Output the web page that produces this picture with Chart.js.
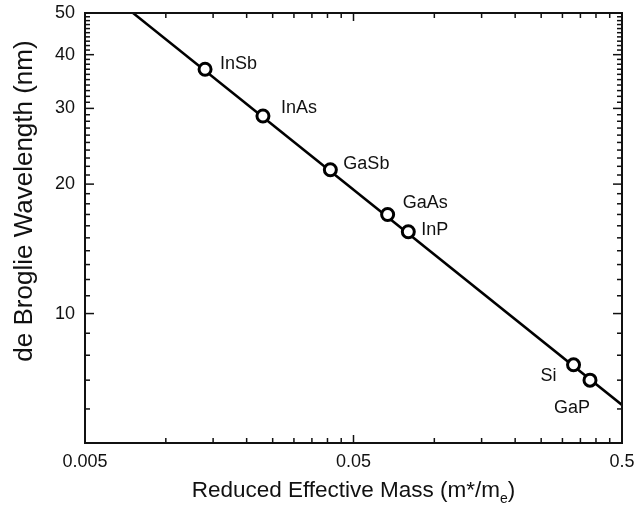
<!DOCTYPE html>
<html>
<head>
<meta charset="utf-8">
<script src="https://cdn.jsdelivr.net/npm/chart.js@4.4.1/dist/chart.umd.min.js"></script>
<style>
  html, body { margin: 0; padding: 0; background: #fff; }
  #wrap { width: 634px; height: 516px; }
</style>
</head>
<body>
<div id="wrap"><canvas id="c" width="634" height="516"></canvas></div>
<script>
// Semiconductor materials and their reduced effective mass vs. de Broglie wavelength
const materials   = ['InSb', 'InAs', 'GaSb', 'GaAs', 'InP', 'Si', 'GaP'];
const reducedMass = [0.014, 0.023, 0.041, 0.067, 0.080, 0.33, 0.38];
const wavelength  = [37.0, 28.8, 21.6, 17.0, 15.5, 7.6, 7.0];

// Reference line (lambda ~ m^-1/2), end points
const lineMass       = [0.00755, 0.5];
const lineWavelength = [50, 6.13];

// Labelled ticks
const xTickValues = [0.005, 0.05, 0.5];
const xTickLabels = ['0.005', '0.05', '0.5'];
const yTickValues = [10, 20, 30, 40, 50];
const yTickLabels = ['10', '20', '30', '40', '50'];

// Unlabelled minor ticks
const xMinorTicks = [];
[0.005, 0.05].forEach(base => { for (let n = 2; n <= 9; n++) xMinorTicks.push(base * n); });
const yMinorTicks = [];
for (let v = 6; v < 50; v++) if (v % 10 !== 0) yMinorTicks.push(v);

// Label placement next to each marker (px, relative to marker centre)
const labelOffsets = [
  { dx: 15, dy: -5,  align: 'left' },
  { dx: 18, dy: -8,  align: 'left' },
  { dx: 13, dy: -6,  align: 'left' },
  { dx: 15, dy: -11, align: 'left' },
  { dx: 13, dy: -2,  align: 'left' },
  { dx: -17, dy: 11, align: 'right' },
  { dx: -18, dy: 28, align: 'center' }
];

const FONT = "'Liberation Sans', Arial, sans-serif";
const INK = '#111';

const frameAndTicks = {
  id: 'frameAndTicks',
  afterDraw(chart) {
    const { ctx, chartArea: a, scales: { x, y } } = chart;
    ctx.save();
    ctx.strokeStyle = INK;
    ctx.lineWidth = 1.5;
    const seg = (x1, y1, x2, y2) => { ctx.beginPath(); ctx.moveTo(x1, y1); ctx.lineTo(x2, y2); ctx.stroke(); };
    const xt = (v, len) => { const p = x.getPixelForValue(v); seg(p, a.bottom, p, a.bottom - len); seg(p, a.top, p, a.top + len); };
    const yt = (v, len) => { const p = y.getPixelForValue(v); seg(a.left, p, a.left + len, p); seg(a.right, p, a.right - len, p); };
    xTickValues.forEach(v => xt(v, 8));
    xMinorTicks.forEach(v => xt(v, 5));
    yTickValues.forEach(v => yt(v, 9));
    yMinorTicks.forEach(v => yt(v, 5));
    ctx.lineWidth = 2;
    ctx.strokeRect(a.left, a.top, a.right - a.left, a.bottom - a.top);

    // axis titles
    ctx.fillStyle = INK;
    ctx.textBaseline = 'middle';
    // x title with subscript
    const main = 'Reduced Effective Mass (m*/m';
    ctx.font = `22.5px ${FONT}`;
    const wMain = ctx.measureText(main).width;
    ctx.font = `14px ${FONT}`;
    const wSub = ctx.measureText('e').width;
    ctx.font = `22.5px ${FONT}`;
    const wEnd = ctx.measureText(')').width;
    const total = wMain + wSub + wEnd;
    const tx = (a.left + a.right) / 2 - total / 2;
    const ty = 491;
    ctx.textAlign = 'left';
    ctx.fillText(main, tx, ty);
    ctx.font = `14px ${FONT}`;
    ctx.fillText('e', tx + wMain, ty + 8);
    ctx.font = `22.5px ${FONT}`;
    ctx.fillText(')', tx + wMain + wSub, ty);

    // y title
    ctx.save();
    ctx.translate(25, 201);
    ctx.rotate(-Math.PI / 2);
    ctx.textAlign = 'center';
    ctx.font = `26px ${FONT}`;
    ctx.fillText('de Broglie Wavelength (nm)', 0, 0);
    ctx.restore();
    ctx.restore();
  }
};

const pointLabels = {
  id: 'pointLabels',
  afterDatasetsDraw(chart) {
    const { ctx } = chart;
    const meta = chart.getDatasetMeta(0);
    ctx.save();
    ctx.fillStyle = INK;
    ctx.font = `18px ${FONT}`;
    ctx.textBaseline = 'middle';
    meta.data.forEach((pt, i) => {
      const o = labelOffsets[i];
      ctx.textAlign = o.align;
      ctx.fillText(materials[i], pt.x + o.dx, pt.y + o.dy);
    });
    ctx.restore();
  }
};

new Chart(document.getElementById('c'), {
  type: 'scatter',
  data: {
    datasets: [
      {
        label: 'Materials',
        data: reducedMass.map((m, i) => ({ x: m, y: wavelength[i] })),
        pointRadius: 6,
        pointHoverRadius: 6,
        pointBorderWidth: 3,
        pointBackgroundColor: '#fff',
        pointBorderColor: '#000',
        showLine: false,
        order: 0
      },
      {
        label: 'Fit',
        data: lineMass.map((m, i) => ({ x: m, y: lineWavelength[i] })),
        showLine: true,
        borderColor: '#000',
        borderWidth: 2.5,
        pointRadius: 0,
        pointHoverRadius: 0,
        order: 1
      }
    ]
  },
  options: {
    responsive: false,
    animation: false,
    events: [],
    layout: { padding: { top: 13, right: 12, left: 0, bottom: 0 } },
    plugins: { legend: { display: false }, tooltip: { enabled: false } },
    scales: {
      x: {
        type: 'logarithmic',
        min: 0.005,
        max: 0.5,
        grid: { display: false },
        border: { display: false },
        afterBuildTicks: s => { s.ticks = xTickValues.map(v => ({ value: v })); },
        afterFit: s => { s.height = 73; s.paddingLeft = 0; s.paddingRight = 0; },
        ticks: {
          autoSkip: false,
          maxRotation: 0,
          padding: 0,
          color: INK,
          font: { family: FONT, size: 18 },
          callback: (v, i) => xTickLabels[i]
        }
      },
      y: {
        type: 'logarithmic',
        min: 5,
        max: 50,
        grid: { display: false },
        border: { display: false },
        afterBuildTicks: s => { s.ticks = yTickValues.map(v => ({ value: v })); },
        afterFit: s => { s.width = 85; s.paddingTop = 0; s.paddingBottom = 0; },
        ticks: {
          autoSkip: false,
          padding: 2,
          color: INK,
          font: { family: FONT, size: 18 },
          callback: (v, i) => yTickLabels[i]
        }
      }
    }
  },
  plugins: [frameAndTicks, pointLabels]
});
</script>
</body>
</html>
